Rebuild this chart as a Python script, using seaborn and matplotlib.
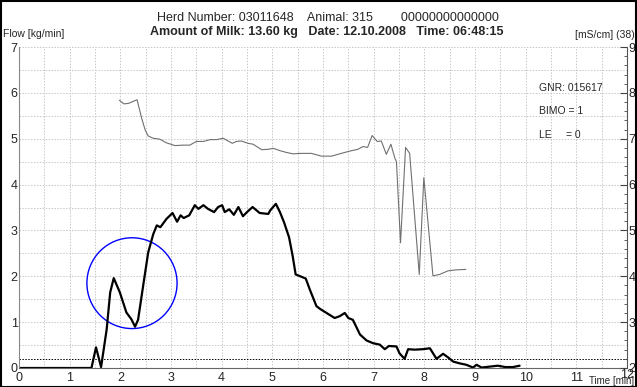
import matplotlib
matplotlib.use("Agg")
import matplotlib.pyplot as plt
from matplotlib.patches import Ellipse, Rectangle
import numpy as np
import pandas as pd
import seaborn as sns

# --- data ---
t_flow = [0, 1.43, 1.52, 1.62, 1.73, 1.80, 1.87, 1.99, 2.12, 2.22, 2.29, 2.35, 2.45, 2.55,
          2.65, 2.72, 2.79, 2.91, 3.03, 3.12, 3.19, 3.25, 3.36, 3.47, 3.54, 3.64, 3.73, 3.85,
          3.93, 4.01, 4.06, 4.15, 4.24, 4.33, 4.42, 4.50, 4.61, 4.75, 4.92, 4.96, 5.07, 5.15,
          5.23, 5.33, 5.40, 5.46, 5.53, 5.66, 5.74, 5.87, 5.94, 6.07, 6.23, 6.33, 6.43, 6.50,
          6.59, 6.73, 6.86, 6.99, 7.12, 7.22, 7.30, 7.45, 7.51, 7.61, 7.68, 7.81, 7.97, 8.11,
          8.24, 8.37, 8.47, 8.57, 8.70, 8.83, 8.96, 9.03, 9.13, 9.29, 9.45, 9.60, 9.75, 9.88]
flow = [0, 0, 0.45, 0.02, 0.84, 1.65, 1.96, 1.65, 1.21, 1.06, 0.90, 1.05, 1.79, 2.52,
        2.92, 3.11, 3.07, 3.25, 3.38, 3.19, 3.33, 3.27, 3.33, 3.55, 3.47, 3.55, 3.47, 3.40,
        3.51, 3.55, 3.40, 3.46, 3.34, 3.51, 3.31, 3.40, 3.51, 3.38, 3.36, 3.44, 3.58, 3.40,
        3.18, 2.85, 2.45, 2.04, 2.01, 1.95, 1.71, 1.35, 1.29, 1.20, 1.09, 1.13, 1.20, 1.09,
        1.05, 0.73, 0.60, 0.54, 0.51, 0.41, 0.48, 0.47, 0.32, 0.20, 0.41, 0.40, 0.41, 0.43,
        0.20, 0.31, 0.23, 0.14, 0.10, 0.07, 0.01, 0.07, 0.01, 0.03, 0.05, 0.02, 0.02, 0.05]

t_cond = [1.98, 2.07, 2.16, 2.33, 2.42, 2.49, 2.55, 2.65, 2.78, 2.91, 3.08, 3.24, 3.37, 3.50,
          3.64, 3.77, 3.90, 4.03, 4.11, 4.21, 4.29, 4.39, 4.52, 4.62, 4.79, 4.92, 5.02, 5.15,
          5.28, 5.41, 5.54, 5.77, 5.97, 6.17, 6.36, 6.53, 6.69, 6.79, 6.88, 6.97, 7.07, 7.15,
          7.25, 7.34, 7.42, 7.45, 7.53, 7.63, 7.71, 7.90, 7.99, 8.17, 8.30, 8.47, 8.63, 8.82]
cond = [7.84, 7.76, 7.77, 7.85, 7.45, 7.19, 7.06, 7.01, 6.99, 6.91, 6.85, 6.86, 6.86, 6.94,
        6.94, 6.98, 6.98, 7.01, 6.96, 6.90, 6.94, 6.95, 6.90, 6.88, 6.76, 6.77, 6.79, 6.74,
        6.70, 6.67, 6.68, 6.68, 6.62, 6.62, 6.68, 6.73, 6.77, 6.83, 6.81, 7.07, 6.94, 6.95,
        6.66, 6.88, 6.57, 6.50, 4.73, 6.81, 6.68, 4.04, 6.15, 4.01, 4.04, 4.12, 4.14, 4.15]

x_ticks = list(range(0, 13))
flow_ticks = list(range(0, 8))
cond_ticks = list(range(2, 10))
threshold = 0.2
info_lines = ["GNR: 015617", "BIMO = 1", "LE     = 0"]

df_flow = pd.DataFrame({"t": t_flow, "flow": flow})
df_cond = pd.DataFrame({"t": t_cond, "cond": cond})

sns.set_style("white")
plt.rcParams['font.family'] = ['Liberation Sans', 'DejaVu Sans']

W, H = 637, 387
fig = plt.figure(figsize=(W / 100, H / 100), dpi=100)
ax = fig.add_axes([19 / W, 1 - 368 / H, (627 - 19) / W, (368 - 47) / H])

# grid every 0.5 in both directions
ax.set_xlim(0, 12)
ax.set_ylim(0, 7)
ax.set_xticks(x_ticks)
ax.set_yticks(flow_ticks)
ax.set_xticks(np.arange(0, 12.01, 0.5), minor=True)
ax.set_yticks(np.arange(0, 7.01, 0.5), minor=True)
ax.grid(True, which='both', color='#c8c8c8', linestyle=(0, (1.5, 1.5)), linewidth=0.7)
ax.set_axisbelow(True)

sns.lineplot(data=df_flow, x="t", y="flow", ax=ax, color='black', linewidth=1.6,
             estimator=None, sort=False)
ax.axhline(threshold, color='black', linestyle=(0, (1.5, 1.5)), linewidth=0.7)
ax.add_patch(Ellipse((2.23, 1.85), 1.78, 1.98, fill=False, edgecolor='blue', linewidth=1.0))

ax.set_xlabel("")
ax.set_ylabel("")
ax.tick_params(axis='x', which='both', length=0, labelsize=9, pad=3)
ax.tick_params(axis='y', which='both', length=0, labelsize=9, pad=1)
for s in ['top', 'right']:
    ax.spines[s].set_visible(False)
ax.spines['left'].set_color('#888888')
ax.spines['bottom'].set_color('#666666')
ax.spines['left'].set_linewidth(0.8)
ax.spines['bottom'].set_linewidth(0.8)
for lbl in ax.get_xticklabels():
    if lbl.get_text() == "12":
        lbl.set_y(0.01)

# conductivity on right axis
ax2 = ax.twinx()
sns.lineplot(data=df_cond, x="t", y="cond", ax=ax2, color='#707070', linewidth=0.8,
             estimator=None, sort=False)
ax2.set_ylim(2, 9)
ax2.set_yticks(cond_ticks)
ax2.set_yticks(np.arange(2, 9.01, 0.2), minor=True)
ax2.set_ylabel("")
ax2.grid(False)
ax2.tick_params(axis='y', which='major', direction='in', length=5, labelsize=9, pad=1, color='#444444')
ax2.tick_params(axis='y', which='minor', direction='in', length=2.5, color='#444444')
for s in ['top', 'left', 'bottom']:
    ax2.spines[s].set_visible(False)
ax2.spines['right'].set_color('#555555')
ax2.spines['right'].set_linewidth(0.8)

# header texts
fig.text(328 / W, 1 - 18 / H, "Herd Number: 03011648    Animal: 315        00000000000000",
         ha='center', va='center', fontsize=9)
fig.text(327 / W, 1 - 32 / H, "Amount of Milk: 13.60 kg   Date: 12.10.2008   Time: 06:48:15",
         ha='center', va='center', fontsize=9, fontweight='bold')
fig.text(3 / W, 1 - 34 / H, "Flow [kg/min]", ha='left', va='center', fontsize=7.5)
fig.text(635 / W, 1 - 35 / H, "[mS/cm] (38)", ha='right', va='center', fontsize=7.5)
fig.text(634 / W, 1 - 381.5 / H, "Time [min]", ha='right', va='center', fontsize=7)

for i, line in enumerate(info_lines):
    fig.text(539 / W, 1 - (88 + i * 23.5) / H, line, ha='left', va='center', fontsize=7.5)

# outer frame
fig.patches.append(Rectangle((0.002, 0.0), 0.996, 0.997, transform=fig.transFigure,
                             fill=False, edgecolor='black', linewidth=1.5))

fig.savefig("out.png", dpi=100)
